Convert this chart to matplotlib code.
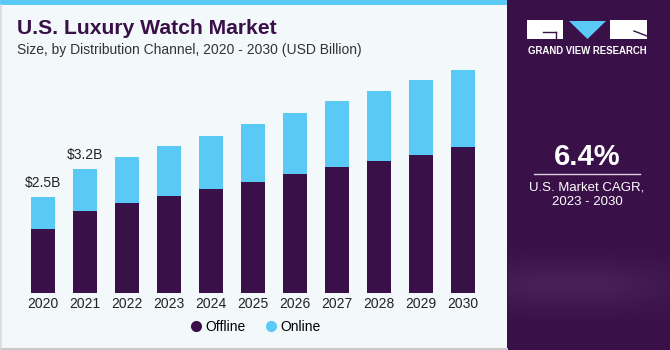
import numpy as np
import matplotlib
matplotlib.use("Agg")
import matplotlib.pyplot as plt
from matplotlib.patches import Rectangle, Polygon
from matplotlib.lines import Line2D

plt.rcParams['font.family'] = ['Liberation Sans', 'DejaVu Sans']

years = ['2020', '2021', '2022', '2023', '2024', '2025', '2026', '2027', '2028', '2029', '2030']
offline = [1.67, 2.14, 2.36, 2.53, 2.72, 2.89, 3.10, 3.29, 3.45, 3.61, 3.82]
online = [0.83, 1.10, 1.18, 1.31, 1.38, 1.51, 1.61, 1.71, 1.82, 1.96, 2.01]
value_labels = {0: '$2.5B', 1: '$3.2B'}

OFFLINE_C = '#3A1048'
ONLINE_C = '#5BC9F6'
PANEL_C = '#3A1048'
BG_C = '#F3F8FB'

W, H = 670, 350
fig = plt.figure(figsize=(W / 100, H / 100), dpi=100, facecolor=BG_C)


def fx(px):
    return px / W


def fy(py):
    # py counted from top of picture
    return 1 - py / H


# background pieces
fig.patches.append(Rectangle((fx(507), 0), fx(163), 1, transform=fig.transFigure,
                             facecolor=PANEL_C, edgecolor='none', zorder=0))
fig.patches.append(Rectangle((0, fy(5)), fx(507), fy(0) - fy(5), transform=fig.transFigure,
                             facecolor=ONLINE_C, edgecolor='none', zorder=1))
fig.lines.append(Line2D([0, fx(507)], [fy(348.5), fy(348.5)], transform=fig.transFigure,
                        color='#C8C8C8', lw=1.5))
fig.lines.append(Line2D([fx(1), fx(1)], [fy(348.5), fy(5)], transform=fig.transFigure,
                        color='#D8D8D8', lw=1.2))

# soft glow at bottom of the right panel
gy, gx = np.mgrid[0:100, 0:60]
glow = np.exp(-((gy - 81) / 7.0) ** 2) * np.clip(1.3 - np.abs(gx - 22) / 45.0, 0, 1) * 0.25
base = np.array(matplotlib.colors.to_rgb(PANEL_C))
light = np.array([0.42, 0.32, 0.52])
img = base[None, None, :] * (1 - glow[..., None]) + light[None, None, :] * glow[..., None]
gax = fig.add_axes([fx(508), 0, fx(162), 1], zorder=1)
gax.imshow(img, aspect='auto', extent=(0, 1, 0, 1), origin='upper')
gax.axis('off')

# bars
ax = fig.add_axes([fx(22), fy(293), fx(462), fy(44) - fy(293)], zorder=2)
ax.set_facecolor('none')
x = np.arange(len(years))
ax.bar(x, offline, width=0.57, color=OFFLINE_C, label='Offline')
ax.bar(x, online, width=0.57, bottom=offline, color=ONLINE_C, label='Online')
for i, lab in value_labels.items():
    ax.text(i, offline[i] + online[i] + 0.18, lab, ha='center', va='bottom',
            fontsize=10, color='#222222')
ax.set_xlim(-0.5, len(years) - 0.5)
ax.set_ylim(0, 6.5)
ax.set_xticks(x)
ax.set_xticklabels(years, fontsize=10, color='#222222')
ax.tick_params(axis='x', length=0, pad=3)
ax.set_yticks([])
for s in ax.spines.values():
    s.set_visible(False)

handles = [Line2D([], [], marker='o', ls='none', color=OFFLINE_C, markersize=7),
           Line2D([], [], marker='o', ls='none', color=ONLINE_C, markersize=7)]
fig.legend(handles, ['Offline', 'Online'], loc='center', bbox_to_anchor=(fx(255), fy(327)),
           ncol=2, frameon=False, fontsize=10, handletextpad=0.2, columnspacing=1.3,
           handlelength=1.0)

# titles
fig.text(fx(17), fy(29), 'U.S. Luxury Watch Market', fontsize=15.2, fontweight='bold',
         color=OFFLINE_C, va='center', ha='left')
fig.text(fx(17), fy(50), 'Size, by Distribution Channel, 2020 - 2030 (USD Billion)',
         fontsize=10, color='#333333', va='center', ha='left')

# logo
lz = 3
fig.patches.append(Rectangle((fx(527), fy(39)), fx(36), fy(20) - fy(39), transform=fig.transFigure,
                             facecolor='white', edgecolor='none', zorder=lz))
fig.lines.append(Line2D([fx(543), fx(556)], [fy(32), fy(32)], transform=fig.transFigure,
                        color=PANEL_C, lw=1.0, zorder=lz + 1))
fig.lines.append(Line2D([fx(556), fx(556)], [fy(32), fy(39)], transform=fig.transFigure,
                        color=PANEL_C, lw=1.0, zorder=lz + 1))
fig.patches.append(Polygon([(fx(569), fy(21)), (fx(606), fy(21)), (fx(587.5), fy(39))],
                           transform=fig.transFigure, facecolor=ONLINE_C, edgecolor='none', zorder=lz))
fig.patches.append(Rectangle((fx(610), fy(39)), fx(37), fy(20) - fy(39), transform=fig.transFigure,
                             facecolor='white', edgecolor='none', zorder=lz))
fig.lines.append(Line2D([fx(634), fx(647)], [fy(31), fy(36)], transform=fig.transFigure,
                        color=PANEL_C, lw=1.0, zorder=lz + 1))
fig.text(fx(587), fy(51), 'GRAND VIEW RESEARCH', fontsize=6.9, fontweight='bold',
         color='white', ha='center', va='center', zorder=lz)

# CAGR block
fig.text(fx(587), fy(157), '6.4%', fontsize=21, fontweight='bold', color='white',
         ha='center', va='center', zorder=lz)
fig.lines.append(Line2D([fx(534), fx(640)], [fy(173.5), fy(173.5)], transform=fig.transFigure,
                        color='#D8D0E0', lw=1.0, zorder=lz))
fig.text(fx(587), fy(187), 'U.S. Market CAGR,', fontsize=9.5, color='white',
         ha='center', va='center', zorder=lz)
fig.text(fx(587), fy(202), '2023 - 2030', fontsize=9.5, color='white',
         ha='center', va='center', zorder=lz)

fig.savefig('out.png', dpi=100, facecolor=BG_C)
